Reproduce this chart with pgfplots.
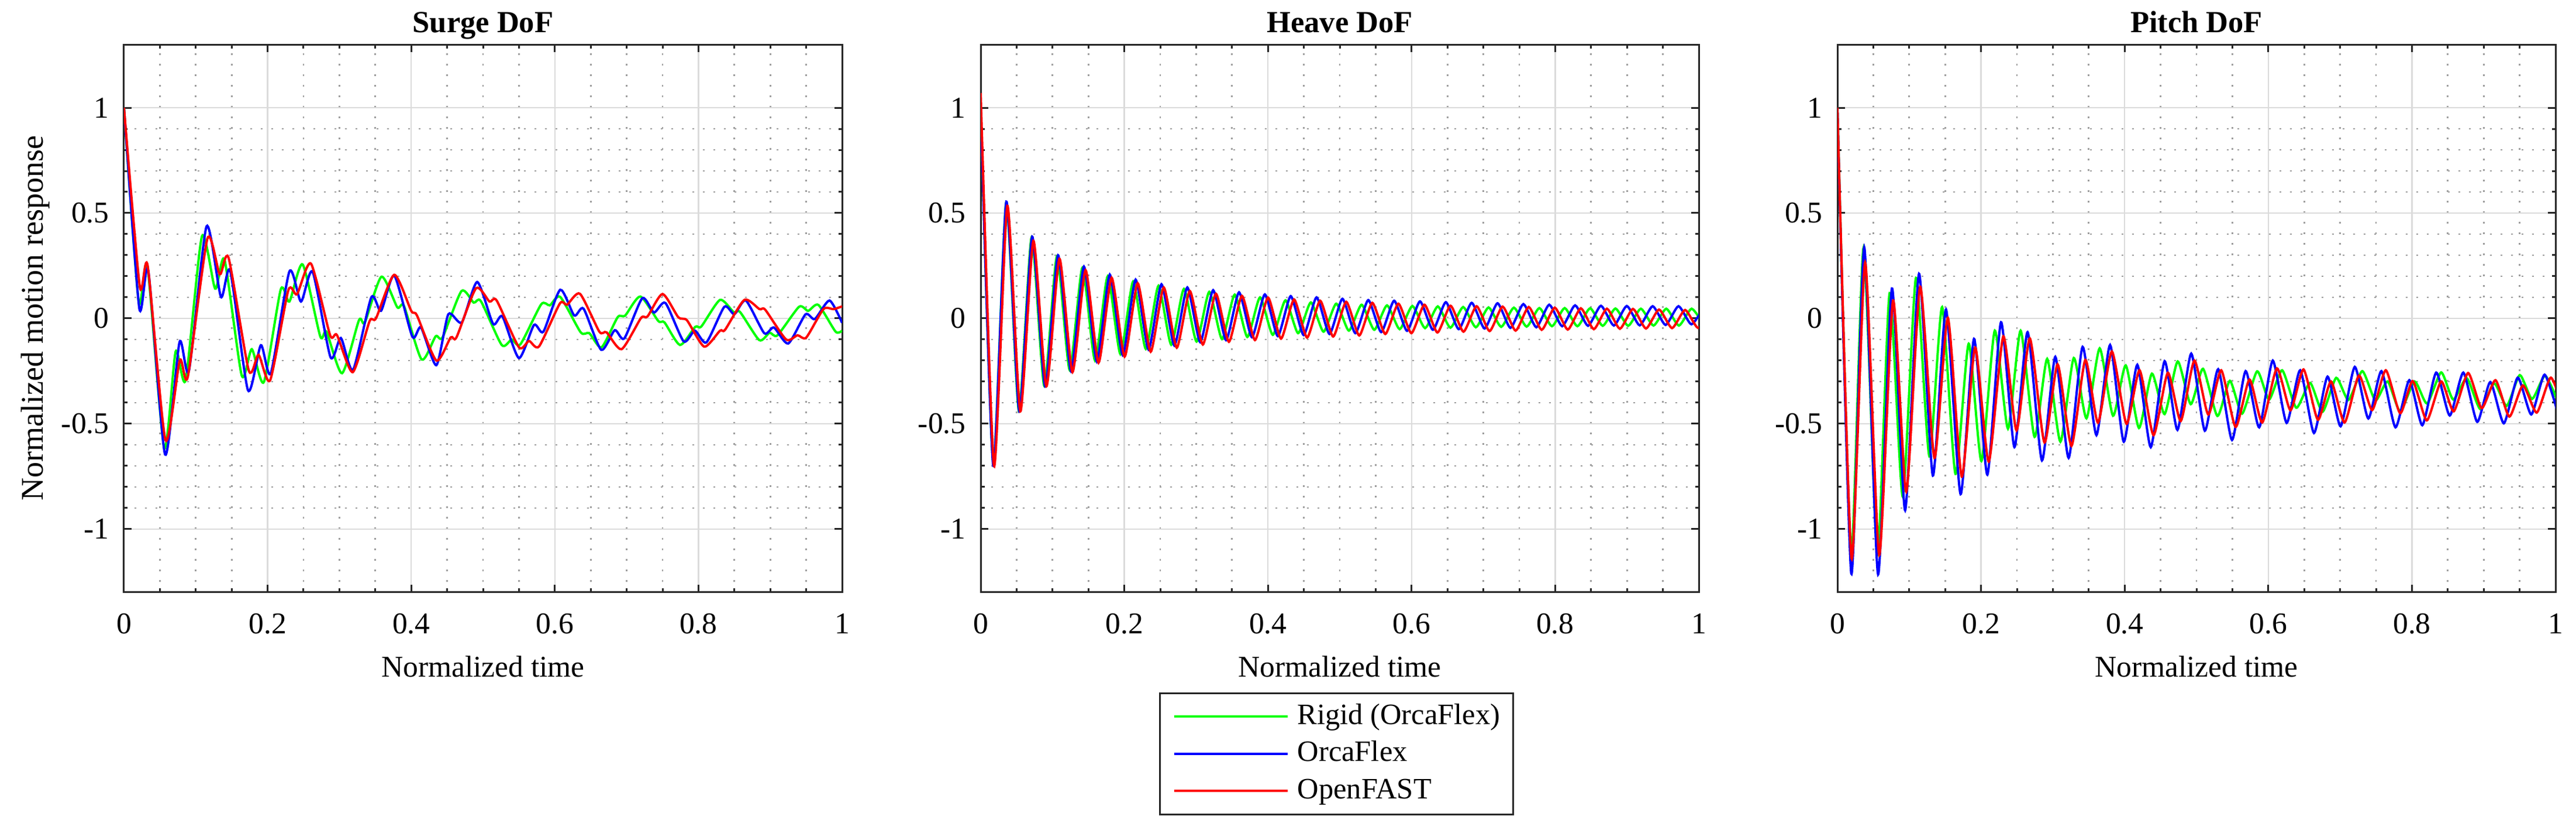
\documentclass[border=0pt]{standalone}
\usepackage{fontspec}
\setmainfont{Liberation Serif}
\usepackage{pgfplots}
\pgfplotsset{compat=1.18}

\pgfplotsset{
 every axis title shift=0pt,
 panel/.style={
  scale only axis, width=245.6pt, height=187.2pt,
  anchor=south west,
  xmin=0,xmax=1,ymin=-1.3,ymax=1.3,
  xtick={0,0.2,0.4,0.6,0.8,1}, xticklabels={0,0.2,0.4,0.6,0.8,1},
  ytick={-1,-0.5,0,0.5,1}, yticklabels={-1,-0.5,0,0.5,1},
  minor x tick num=3, minor y tick num=4,
  grid=both,
  major grid style={line width=0.5pt, draw=black!14},
  minor grid style={line width=0.55pt, draw=black!38, dash pattern=on 0.6pt off 3pt},
  tick align=inside,
  major tick length=2.6pt, minor tick length=1.3pt,
  tick style={draw=black!85, line width=0.6pt},
  axis line style={draw=black!85, line width=0.6pt},
  font=\fontsize{10.3}{12}\selectfont,
  xticklabel style={anchor=base, yshift=-14.2pt, inner sep=0pt},
  yticklabel style={anchor=east, xshift=-4.9pt, inner sep=0pt},
  xlabel style={at={(axis description cs:0.5,-0.1546)}, anchor=base, yshift=0pt},
  title style={at={(axis description cs:0.5,1.0224)}, anchor=base, yshift=0pt, font=\fontsize{10.5}{12}\selectfont\bfseries},
  every axis plot/.append style={line width=0.8pt, smooth, tension=0.4},
 }
}

\begin{document}
\begin{tikzpicture}
\path[use as bounding box] (0,0) rectangle (881pt,283.6pt);

% ---------------- Surge ----------------
\begin{axis}[panel, at={(42.4pt,81.2pt)},
  title={Surge DoF}, xlabel={Normalized time},
  ylabel={Normalized motion response},
  ylabel style={at={(axis description cs:-0.1124,0.5)}, anchor=base, font=\fontsize{10.8}{12}\selectfont}]
\addplot[green] coordinates {
(0,1.0) (0.0204,0.082) (0.0326,0.25) (0.056,-0.614) (0.072,-0.157) (0.0859,-0.292)
(0.1086,0.39) (0.127,0.141) (0.140,0.278) (0.164,-0.271) (0.178,-0.146) (0.1948,-0.302)
(0.2184,0.138) (0.2304,0.08) (0.2488,0.256) (0.2733,-0.085) (0.282,-0.063) (0.3037,-0.26)
(0.3273,-0.008) (0.3354,-0.019) (0.3586,0.198) (0.3806,0.053) (0.390,0.058) (0.4145,-0.195)
(0.434,-0.085) (0.4436,-0.09) (0.470,0.13) (0.487,0.075) (0.497,0.082) (0.526,-0.126)
(0.540,-0.100) (0.552,-0.123) (0.581,0.067) (0.593,0.062) (0.6075,0.102) (0.636,-0.066)
(0.648,-0.070) (0.665,-0.137) (0.6875,0.006) (0.6978,0.013) (0.719,0.104) (0.744,-0.012)
(0.7527,-0.019) (0.7743,-0.126) (0.7955,-0.040) (0.804,-0.038) (0.830,0.088) (0.849,0.030)
(0.858,0.030) (0.8847,-0.103) (0.899,-0.068) (0.910,-0.080) (0.940,0.055) (0.9527,0.036)
(0.967,0.064) (0.991,-0.063) (1.0,-0.058)};
\addplot[blue] coordinates {
(0,1.0) (0.0213,0.049) (0.0339,0.225) (0.0573,-0.646) (0.0774,-0.112) (0.0905,-0.248)
(0.115,0.437) (0.135,0.102) (0.148,0.225) (0.1727,-0.341) (0.1906,-0.127) (0.2045,-0.26)
(0.2304,0.223) (0.2465,0.08) (0.2627,0.221) (0.2876,-0.184) (0.302,-0.093) (0.319,-0.244)
(0.3444,0.1) (0.358,0.036) (0.3764,0.203) (0.4016,-0.087) (0.4136,-0.043) (0.435,-0.222)
(0.4517,0.02) (0.4704,-0.019) (0.4919,0.173) (0.514,-0.026) (0.527,0.009) (0.550,-0.188)
(0.571,-0.031) (0.584,-0.063) (0.6075,0.136) (0.627,0.014) (0.640,0.046) (0.6645,-0.149)
(0.6834,-0.056) (0.6967,-0.095) (0.7218,0.096) (0.738,0.028) (0.754,0.073) (0.7794,-0.109)
(0.795,-0.058) (0.811,-0.114) (0.836,0.055) (0.850,0.020) (0.866,0.085) (0.8916,-0.070)
(0.905,-0.043) (0.925,-0.119) (0.949,0.019) (0.962,-0.003) (0.9825,0.085) (1.0,-0.021)};
\addplot[red] coordinates {
(0,1.0) (0.022,0.152) (0.033,0.25) (0.0578,-0.577) (0.0777,-0.199) (0.0889,-0.277)
(0.1163,0.38) (0.1334,0.209) (0.1457,0.287) (0.1738,-0.247) (0.1874,-0.173) (0.2036,-0.293)
(0.2288,0.133) (0.241,0.115) (0.2604,0.26) (0.287,-0.079) (0.2966,-0.079) (0.3186,-0.255)
(0.342,-0.013) (0.351,0.001) (0.3764,0.207) (0.400,0.036) (0.408,0.014) (0.435,-0.200)
(0.455,-0.090) (0.463,-0.090) (0.4902,0.143) (0.509,0.080) (0.519,0.085) (0.550,-0.137)
(0.564,-0.107) (0.578,-0.133) (0.607,0.071) (0.617,0.065) (0.635,0.117) (0.662,-0.063)
(0.672,-0.066) (0.693,-0.146) (0.720,0.002) (0.729,0.009) (0.750,0.116) (0.772,0.005)
(0.784,-0.009) (0.808,-0.134) (0.830,-0.058) (0.837,-0.054) (0.864,0.088) (0.885,0.044)
(0.893,0.041) (0.922,-0.100) (0.938,-0.080) (0.950,-0.091) (0.974,0.044) (0.988,0.044)
(1.0,0.057)};
\end{axis}

% ---------------- Heave ----------------
\begin{axis}[panel, at={(335.4pt,81.2pt)},
  title={Heave DoF}, xlabel={Normalized time},
  tension=0.37,
  legend cell align=left,
  legend image code/.code={\draw[#1] (0pt,0pt) -- (38.8pt,0pt);},
  legend style={at={(axis description cs:0.4955,-0.1827)}, anchor=north,
    draw=black!85, line width=0.6pt, inner xsep=4.4pt, inner ysep=3pt,
    row sep=2.66pt, /tikz/column sep=3pt,
    nodes={inner sep=0pt, text height=7.6pt, text depth=2.4pt, font=\fontsize{10.1}{12}\selectfont}}]
\addplot[green, tension=0.37] coordinates {
(0,1.0) (0.0175,-0.690)
(0.0355,0.550) (0.0532,-0.440) (0.0709,0.385) (0.0885,-0.320) (0.1062,0.295) (0.1239,-0.245)
(0.1416,0.240) (0.1592,-0.200) (0.1769,0.200) (0.1946,-0.170) (0.2123,0.175) (0.2299,-0.145)
(0.2476,0.155) (0.2653,-0.125) (0.2830,0.140) (0.3006,-0.110) (0.3183,0.126) (0.3360,-0.098)
(0.3537,0.113) (0.3713,-0.088) (0.3890,0.100) (0.4067,-0.078) (0.4244,0.086) (0.4420,-0.070)
(0.4597,0.076) (0.4774,-0.063) (0.4951,0.070) (0.5127,-0.058) (0.5304,0.065) (0.5481,-0.054)
(0.5658,0.062) (0.5834,-0.051) (0.6011,0.059) (0.6188,-0.046) (0.6365,0.057) (0.6541,-0.044)
(0.6718,0.054) (0.6895,-0.042) (0.7072,0.052) (0.7248,-0.040) (0.7425,0.051) (0.7602,-0.039)
(0.7779,0.049) (0.7955,-0.037) (0.8132,0.049) (0.8309,-0.037) (0.8486,0.048) (0.8662,-0.035)
(0.8839,0.047) (0.9016,-0.035) (0.9193,0.046) (0.9369,-0.034) (0.9546,0.046) (0.9723,-0.034)
(0.9900,0.046) (1.0076,-0.034)};
\addlegendentry{Rigid (OrcaFlex)}
\addplot[blue, tension=0.37] coordinates {
(0,1.0) (0.0175,-0.700)
(0.0357,0.554) (0.0537,-0.441) (0.0717,0.388) (0.0897,-0.322) (0.1077,0.300) (0.1257,-0.250)
(0.1437,0.246) (0.1617,-0.205) (0.1797,0.208) (0.1977,-0.174) (0.2157,0.184) (0.2337,-0.148)
(0.2517,0.162) (0.2697,-0.129) (0.2877,0.147) (0.3057,-0.113) (0.3237,0.134) (0.3417,-0.103)
(0.3597,0.124) (0.3777,-0.089) (0.3957,0.114) (0.4137,-0.084) (0.4317,0.106) (0.4497,-0.079)
(0.4677,0.100) (0.4857,-0.074) (0.5037,0.093) (0.5217,-0.070) (0.5397,0.087) (0.5577,-0.065)
(0.5757,0.084) (0.5937,-0.059) (0.6117,0.081) (0.6297,-0.054) (0.6477,0.077) (0.6657,-0.051)
(0.6837,0.074) (0.7017,-0.048) (0.7197,0.072) (0.7377,-0.045) (0.7557,0.068) (0.7737,-0.042)
(0.7917,0.065) (0.8097,-0.037) (0.8277,0.062) (0.8457,-0.035) (0.8637,0.060) (0.8817,-0.034)
(0.8997,0.059) (0.9177,-0.033) (0.9357,0.058) (0.9537,-0.031) (0.9717,0.058) (0.9897,-0.028)
(1.0077,0.057)};
\addlegendentry{OrcaFlex}
\addplot[red, tension=0.37] coordinates {
(0,1.07) (0.0185,-0.700)
(0.0371,0.534) (0.0552,-0.441) (0.0734,0.368) (0.0915,-0.322) (0.1097,0.283) (0.1278,-0.255)
(0.1460,0.229) (0.1641,-0.210) (0.1823,0.193) (0.2004,-0.181) (0.2186,0.167) (0.2367,-0.158)
(0.2549,0.147) (0.2730,-0.139) (0.2912,0.130) (0.3093,-0.124) (0.3275,0.117) (0.3456,-0.111)
(0.3638,0.107) (0.3819,-0.103) (0.4001,0.099) (0.4182,-0.096) (0.4364,0.090) (0.4545,-0.091)
(0.4727,0.084) (0.4908,-0.086) (0.5090,0.079) (0.5271,-0.081) (0.5453,0.074) (0.5634,-0.074)
(0.5816,0.070) (0.5997,-0.070) (0.6179,0.065) (0.6360,-0.067) (0.6542,0.060) (0.6723,-0.063)
(0.6905,0.058) (0.7086,-0.060) (0.7268,0.056) (0.7449,-0.058) (0.7631,0.054) (0.7812,-0.054)
(0.7994,0.051) (0.8175,-0.053) (0.8357,0.048) (0.8538,-0.051) (0.8720,0.046) (0.8901,-0.049)
(0.9083,0.045) (0.9264,-0.048) (0.9446,0.042) (0.9627,-0.046) (0.9809,0.040) (0.9990,-0.045)
(1.0172,0.040)};
\addlegendentry{OpenFAST}
\end{axis}

% ---------------- Pitch ----------------
\begin{axis}[panel, at={(628.4pt,81.2pt)},
  title={Pitch DoF}, xlabel={Normalized time}]
\addplot[green, tension=0.37] coordinates {
(0,1.0) (0.0190,-1.12) (0.0364,0.335) (0.0557,-1.123) (0.0727,0.120) (0.0910,-0.846)
(0.1094,0.192) (0.1280,-0.654) (0.1458,0.054) (0.1644,-0.738) (0.1828,-0.120) (0.2005,-0.677)
(0.2191,-0.058) (0.2375,-0.523) (0.2551,-0.058) (0.2745,-0.562) (0.2921,-0.192) (0.3105,-0.585)
(0.3291,-0.188) (0.3468,-0.474) (0.3652,-0.142) (0.3838,-0.462) (0.4015,-0.223) (0.4199,-0.520)
(0.4379,-0.262) (0.4556,-0.454) (0.4738,-0.204) (0.4920,-0.407) (0.5091,-0.239) (0.5291,-0.463)
(0.5465,-0.296) (0.5636,-0.452) (0.5844,-0.251) (0.6011,-0.385) (0.6193,-0.246) (0.6389,-0.424)
(0.6582,-0.306) (0.6756,-0.443) (0.6945,-0.282) (0.7116,-0.387) (0.7309,-0.250) (0.7491,-0.389)
(0.7662,-0.299) (0.7836,-0.441) (0.8036,-0.299) (0.8211,-0.404) (0.8407,-0.256) (0.8575,-0.385)
(0.8764,-0.284) (0.8953,-0.431) (0.9145,-0.308) (0.9320,-0.415) (0.9502,-0.269) (0.9673,-0.382)
(0.9855,-0.272) (1.0037,-0.400)};
\addplot[blue, tension=0.37] coordinates {
(0,1.0) (0.0193,-1.211) (0.0373,0.338) (0.0566,-1.215) (0.0759,0.142) (0.0943,-0.911)
(0.1136,0.212) (0.1329,-0.746) (0.1512,0.043) (0.1715,-0.834) (0.1902,-0.097) (0.2088,-0.742)
(0.2278,-0.018) (0.2465,-0.611) (0.2648,-0.065) (0.2848,-0.674) (0.3034,-0.182) (0.3220,-0.662)
(0.3414,-0.135) (0.3607,-0.554) (0.3797,-0.126) (0.3987,-0.585) (0.4176,-0.220) (0.4363,-0.611)
(0.4556,-0.203) (0.4735,-0.529) (0.4927,-0.167) (0.5116,-0.533) (0.5302,-0.241) (0.5495,-0.577)
(0.5684,-0.250) (0.5873,-0.517) (0.6062,-0.200) (0.6255,-0.496) (0.6444,-0.246) (0.6636,-0.544)
(0.6825,-0.276) (0.7007,-0.512) (0.7204,-0.230) (0.7393,-0.475) (0.7575,-0.250) (0.7771,-0.517)
(0.7964,-0.293) (0.8145,-0.507) (0.8338,-0.257) (0.8527,-0.461) (0.8716,-0.257) (0.8909,-0.491)
(0.9091,-0.302) (0.9280,-0.498) (0.9473,-0.281) (0.9662,-0.456) (0.9847,-0.267) (1.0037,-0.456)};
\addplot[red, tension=0.37] coordinates {
(0,1.0) (0.0196,-1.138) (0.0386,0.265) (0.0582,-1.123) (0.0775,0.085) (0.0959,-0.823)
(0.1152,0.151) (0.1351,-0.662) (0.1538,0.003) (0.1731,-0.751) (0.1918,-0.138) (0.2107,-0.680)
(0.2310,-0.085) (0.2494,-0.531) (0.2680,-0.095) (0.2883,-0.589) (0.3066,-0.218) (0.3259,-0.605)
(0.3452,-0.197) (0.3629,-0.495) (0.3822,-0.157) (0.4025,-0.500) (0.4208,-0.246) (0.4402,-0.554)
(0.4601,-0.258) (0.4781,-0.487) (0.4971,-0.200) (0.5164,-0.456) (0.5345,-0.246) (0.5545,-0.515)
(0.5738,-0.290) (0.5916,-0.494) (0.6120,-0.237) (0.6309,-0.436) (0.6491,-0.242) (0.6691,-0.481)
(0.6873,-0.299) (0.7062,-0.494) (0.7262,-0.271) (0.7447,-0.435) (0.7636,-0.246) (0.7836,-0.450)
(0.8011,-0.297) (0.8207,-0.484) (0.8407,-0.299) (0.8582,-0.441) (0.8782,-0.259) (0.8971,-0.426)
(0.9164,-0.293) (0.9356,-0.466) (0.9545,-0.318) (0.9738,-0.447) (0.9935,-0.281) (1.0128,-0.450)};
\end{axis}
\end{tikzpicture}
\end{document}
